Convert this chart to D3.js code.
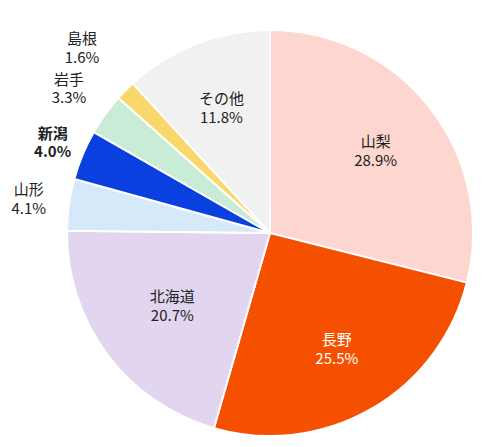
<!DOCTYPE html><html><head><meta charset="utf-8">
<script src="https://cdn.jsdelivr.net/npm/d3@7"></script>
<style>body{margin:0;background:#fff}</style></head><body>
<svg id="c" width="500" height="447"></svg>
<script>
const categories=["山梨","長野","北海道","山形","新潟","岩手","島根","その他"];
const values=[28.9,25.5,20.7,4.1,4.0,3.3,1.6,11.8];
const colors=["#fcd6cf","#f45000","#e1d5ef","#d6e9fb","#0a3fe0","#c8ecd6","#f8d86c","#f1f1f1"];
const labelRadius=[0.66,0.66,0.6,1.2,1.16,1.22,1.3,0.66];
const bold=[false,false,false,false,true,false,false,false];
const svg=d3.select("#c"),cx=270,cy=233,r=203;
const g=svg.append("g").attr("transform",`translate(${cx},${cy})`);
const pie=d3.pie().sort(null).value(d=>d)(values);
const arc=d3.arc().innerRadius(0).outerRadius(r);
g.selectAll("path").data(pie).join("path").attr("d",arc)
 .attr("fill",(d,i)=>colors[i]).attr("stroke","#fff").attr("stroke-width",2);
pie.forEach((d,i)=>{
  const la=d3.arc().innerRadius(r*labelRadius[i]).outerRadius(r*labelRadius[i]);
  const p=la.centroid(d);
  const t=g.append("text").attr("x",p[0]).attr("y",p[1]).attr("text-anchor","middle")
   .attr("font-family","Noto Sans CJK JP").attr("font-size",15)
   .attr("font-weight",bold[i]?"bold":"normal")
   .attr("fill",i===1?"#fff":"#222");
  t.append("tspan").attr("x",p[0]).attr("dy","-0.25em").text(categories[i]);
  t.append("tspan").attr("x",p[0]).attr("dy","1.25em").text(values[i].toFixed(1)+"%");
});
</script></body></html>
